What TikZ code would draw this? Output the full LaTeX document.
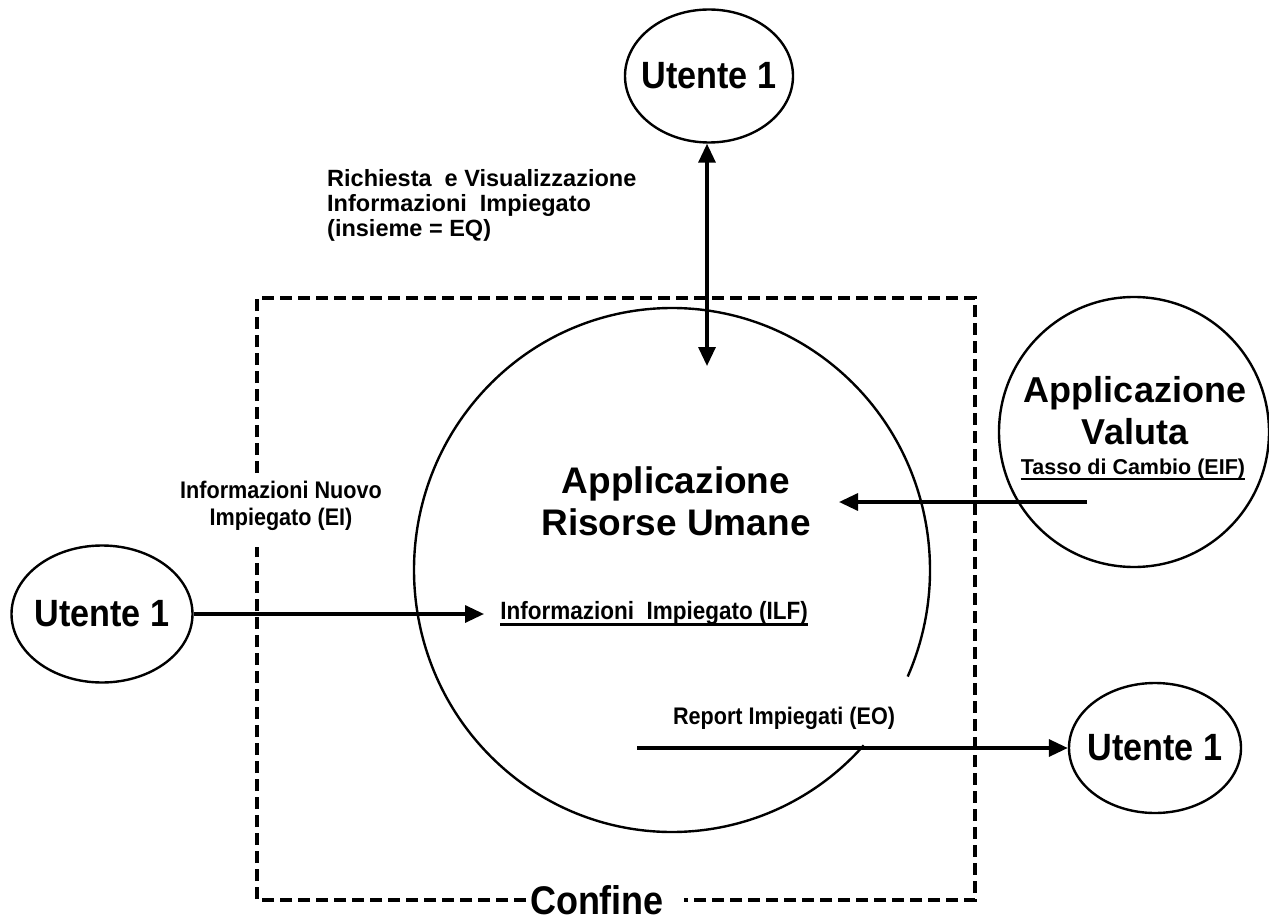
\documentclass[tikz,border=0pt]{standalone}
\usepackage{fontspec}
\setmainfont{Liberation Sans}
\newfontfamily\narrowfont{Liberation Sans}[FakeStretch=0.9]
\usetikzlibrary{shapes.geometric,arrows.meta}
\begin{document}
\begin{tikzpicture}[x=1pt,y=-1pt,
  ent/.style={ellipse, draw, line width=2.4pt, inner sep=0pt},
  enttext/.style={font=\narrowfont\bfseries\fontsize{38}{40}\selectfont, inner sep=0pt},
  flow/.style={line width=3.3pt, -{Triangle[length=19pt,width=17pt]}},
  bound/.style={line width=3.8pt, dash pattern=on 12pt off 6pt},
  lbl/.style={font=\narrowfont\bfseries\fontsize{24}{27}\selectfont, align=center, inner sep=0pt},
  sml/.style={font=\bfseries\fontsize{23.5}{25}\selectfont, align=left, inner sep=0pt},
  big/.style={font=\bfseries\fontsize{37}{42}\selectfont, align=center, inner sep=0pt},
  uline/.style={line width=2.2pt}]
\useasboundingbox[fill=white] (0,0) rectangle (1269,923);

% boundary
\coordinate (b1) at (257,473);
\coordinate (b2) at (257,298);
\coordinate (b3) at (975,298);
\coordinate (b4) at (975,900);
\coordinate (b5) at (684,900);
\coordinate (b6) at (526,900);
\coordinate (b7) at (257,900);
\coordinate (b8) at (257,547);
\draw[bound] (b1) -- (b2) -- (b3) -- (b4) -- (b5);
\draw[bound] (b6) -- (b7) -- (b8);
\node[font=\narrowfont\bfseries\fontsize{40}{44}\selectfont, inner sep=0pt] (confine) at (597,900) {Confine};

% central application
\node[ellipse, minimum width=516pt, minimum height=524pt, inner sep=0pt] (hr) at (672,570) {};
\draw[line width=2.4pt] (672,570) ++(42:258 and 262) arc[start angle=42, end angle=384, x radius=258, y radius=262];
\node[big] (hrl) at (676,501) {Applicazione\\Risorse Umane};

% users
\node[ent, minimum width=168pt, minimum height=133pt] (u1) at (709,76) {};
\node[enttext] (u1t) at (u1) {Utente 1};
\node[ent, minimum width=181pt, minimum height=137pt] (u2) at (102,614) {};
\node[enttext] (u2t) at (u2) {Utente 1};
\node[ent, minimum width=172pt, minimum height=130pt] (u3) at (1155,748) {};
\node[enttext] (u3t) at (u3) {Utente 1};

% currency application
\node[circle, draw, line width=2.4pt, minimum size=270pt, inner sep=0pt] (val) at (1134,432) {};
\node[big, font=\bfseries\fontsize{36}{42}\selectfont] (vall) at (1135,411) {Applicazione\\Valuta};
\node[font=\bfseries\fontsize{21.5}{24}\selectfont, inner sep=0pt] (eif) at (1133,469) {Tasso di Cambio (EIF)};
\draw[uline] ([yshift=-4.5pt]eif.base west) -- ([yshift=-4.5pt]eif.base east);

% ILF
\node[lbl, font=\narrowfont\bfseries\fontsize{25}{27}\selectfont] (ilf) at (654,613) {Informazioni\ \ Impiegato (ILF)};
\draw[uline] ([yshift=-5pt]ilf.base west) -- ([yshift=-5pt]ilf.base east);

% EQ
\coordinate (eqend) at (707,366);
\draw[line width=3.3pt, {Triangle[length=19pt,width=17pt]}-{Triangle[length=19pt,width=17pt]}] (u1.south -| eqend) -- (eqend);
\node[sml, anchor=west] (eq) at (327,205) {Richiesta\ \ e Visualizzazione\\Informazioni\ \ Impiegato\\(insieme = EQ)};

% EI
\coordinate (eiend) at (484,614);
\draw[flow] (u2.east) -- (eiend);
\node[lbl] (ei) at (281,506) {Informazioni Nuovo\\Impiegato (EI)};

% EIF arrow
\coordinate (eifs) at (1087,502);
\coordinate (eift) at (839,502);
\draw[flow] (eifs) -- (eift);

% EO
\coordinate (eos) at (637,748);
\draw[flow] (eos) -- (u3.west);
\node[lbl] (eo) at (784,718) {Report Impiegati (EO)};
\end{tikzpicture}
\end{document}
